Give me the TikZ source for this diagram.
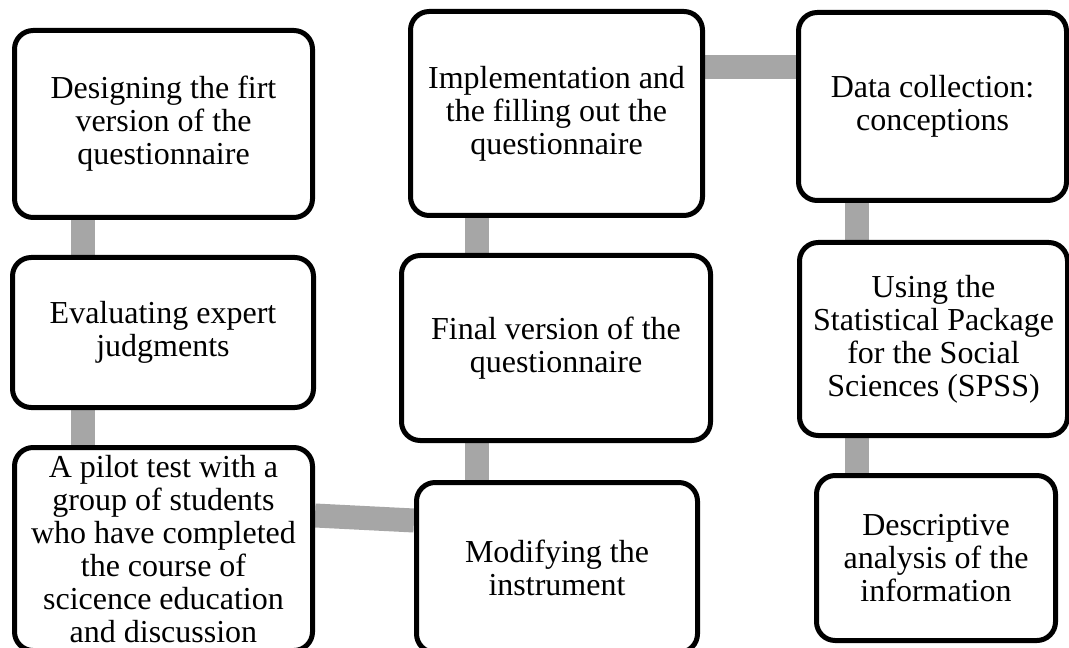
\documentclass[tikz,border=0pt]{standalone}
\usepackage{fontspec}
\setmainfont{Liberation Serif}
\usetikzlibrary{calc,backgrounds}
\definecolor{conngray}{RGB}{166,166,166}
\begin{document}
\begin{tikzpicture}[x=0.75pt,y=-0.75pt,
  box/.style={draw=black, line width=3.75pt, rounded corners=14pt, fill=white,
    align=center, inner sep=0pt, font=\fontsize{24pt}{24.8pt}\selectfont},
  conn/.style={draw=conngray, line width=18pt}]
\useasboundingbox (0,0) rectangle (1069,648);
\clip (0,0) rectangle (1069,648);

\node[box, minimum width=298*0.75pt, minimum height=187*0.75pt] (b1) at (163.5,124)
  {Designing the firt\\version of the\\questionnaire};
\node[box, minimum width=301*0.75pt, minimum height=150*0.75pt] (b2) at (163,332.5)
  {Evaluating expert\\judgments};
\node[box, minimum width=298*0.75pt, minimum height=203*0.75pt] (b3) at (163.5,549)
  {A pilot test with a\\group of students\\who have completed\\the course of\\scicence education\\and discussion};
\node[box, minimum width=281*0.75pt, minimum height=170*0.75pt] (b4) at (557,567.5)
  {Modifying the\\instrument};
\node[box, minimum width=309*0.75pt, minimum height=185*0.75pt] (b5) at (556,348)
  {Final version of the\\questionnaire};
\node[box, minimum width=292*0.75pt, minimum height=204*0.75pt] (b6) at (556.5,113.5)
  {Implementation and\\the filling out the\\questionnaire};
\node[box, minimum width=268*0.75pt, minimum height=188*0.75pt] (b7) at (932.5,106.5)
  {Data collection:\\conceptions};
\node[box, minimum width=268*0.75pt, minimum height=193*0.75pt] (b8) at (933.5,339)
  {Using the\\Statistical Package\\for the Social\\Sciences (SPSS)};
\node[box, minimum width=239*0.75pt, minimum height=165*0.75pt] (b9) at (936,558)
  {Descriptive\\analysis of the\\information};

\begin{pgfonlayer}{background}
\fill[white] (0,0) rectangle (1069,648);
\draw[conn] ($(b1.south west)+(71,0)$) -- ($(b2.north west)+(73,0)$);
\draw[conn] ($(b2.south west)+(73,0)$) -- ($(b3.north west)+(71,0)$);
\draw[conn] ($(b3.north east)+(0,70.5)$) -- ($(b4.north west)+(0,40.5)$);
\draw[conn] ($(b4.north west)+(62.5,0)$) -- ($(b5.south west)+(77.5,0)$);
\draw[conn] ($(b5.north west)+(77.5,0)$) -- ($(b6.south west)+(68.5,0)$);
\draw[conn] ($(b6.north east)+(0,58.5)$) -- ($(b7.north west)+(0,57.5)$);
\draw[conn] ($(b7.south west)+(60.5,0)$) -- ($(b8.north west)+(59.5,0)$);
\draw[conn] ($(b8.south west)+(59.5,0)$) -- ($(b9.north west)+(42.5,0)$);
\end{pgfonlayer}
\end{tikzpicture}
\end{document}
